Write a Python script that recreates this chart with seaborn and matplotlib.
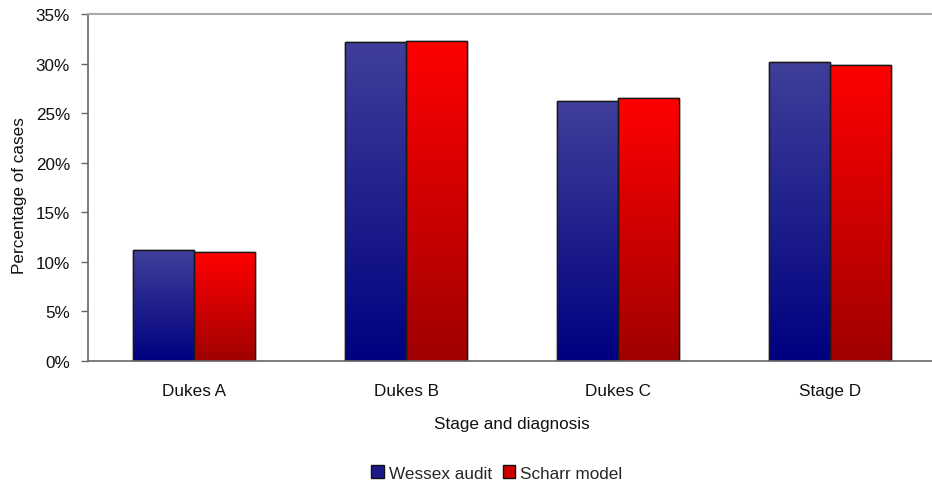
import numpy as np
import pandas as pd
import matplotlib
matplotlib.use("Agg")
import matplotlib.pyplot as plt
from matplotlib.colors import LinearSegmentedColormap
from matplotlib.patches import Patch
import seaborn as sns

# Share of cases by stage at diagnosis
stages = ["Dukes A", "Dukes B", "Dukes C", "Stage D"]
wessex_audit = [11.15, 32.15, 26.2, 30.15]
scharr_model = [10.97, 32.3, 26.55, 29.87]
series_names = ["Wessex audit", "Scharr model"]
y_ticks = [0, 5, 10, 15, 20, 25, 30, 35]

df = pd.DataFrame({
    "stage": stages * 2,
    "pct": wessex_audit + scharr_model,
    "series": [series_names[0]] * len(stages) + [series_names[1]] * len(stages),
})

sns.set_style("white")
plt.rcParams["font.family"] = ["Liberation Sans", "DejaVu Sans"]
FS = 12.3

fig = plt.figure(figsize=(9.32, 4.85), dpi=100)
ax = fig.add_axes([88 / 932, 123 / 485, 848 / 932, 347 / 485])

# gradients: lighter at the top, darker at the bottom
grad = {
    series_names[0]: ("#000080", "#3f3f9a"),
    series_names[1]: ("#a00000", "#ff0000"),
}
solid = {series_names[0]: "#2a2a8e", series_names[1]: "#e00000"}

sns.barplot(data=df, x="stage", y="pct", hue="series", hue_order=series_names,
            palette=solid, width=0.575, ax=ax, legend=False,
            edgecolor="#1a1a1a", linewidth=1.0, saturation=1)

ax.set_xlim(-0.5, 3.5)
ax.set_ylim(0, 35)

# paint each bar with a vertical gradient clipped to the bar shape
for i, cont in enumerate(ax.containers):
    name = series_names[i]
    cmap = LinearSegmentedColormap.from_list(name, list(grad[name]))
    for bar in cont:
        x0 = bar.get_x()
        w = bar.get_width()
        h = bar.get_height()
        img = np.linspace(0, 1, 256).reshape(-1, 1)
        im = ax.imshow(img, cmap=cmap, origin="lower", aspect="auto",
                       extent=(x0, x0 + w, 0, h), zorder=bar.get_zorder() + 0.1,
                       interpolation="bilinear")
        im.set_clip_path(bar)
        ax.add_patch(plt.Rectangle((x0, 0), w, h, fill=False,
                                   edgecolor="#1a1a1a", linewidth=1.0,
                                   zorder=bar.get_zorder() + 0.2))
ax.set_xlim(-0.5, 3.5)
ax.set_ylim(0, 35)

ax.set_yticks(y_ticks)
ax.set_yticklabels([f"{v}%" for v in y_ticks], fontsize=FS, color="#111111")
ax.set_xticks(range(len(stages)))
ax.set_xticklabels(stages, fontsize=FS, color="#111111")
ax.set_xticks([0.5, 1.5, 2.5], minor=True)
ax.tick_params(axis="x", which="major", length=0, pad=16)
ax.tick_params(axis="x", which="minor", length=5, width=1, color="#666666",
               direction="out")
ax.tick_params(axis="y", which="major", length=5, width=1, color="#666666",
               direction="out", left=True, pad=8)

for side in ["left", "bottom"]:
    ax.spines[side].set_visible(True)
    ax.spines[side].set_color("#666666")
    ax.spines[side].set_linewidth(1.2)
ax.spines["top"].set_visible(True)
ax.spines["top"].set_color("#aaaaaa")
ax.spines["top"].set_linewidth(1.5)
ax.spines["right"].set_visible(False)

ax.set_xlabel("Stage and diagnosis", fontsize=FS, color="#111111", labelpad=13)
ax.set_ylabel("Percentage of cases", fontsize=FS, color="#111111")
ax.yaxis.set_label_coords(-61 / 848, 0.48)

handles = [Patch(facecolor="#1a1a8a", edgecolor="#111111", linewidth=1.0),
           Patch(facecolor="#d00000", edgecolor="#111111", linewidth=1.0)]
fig.legend(handles, series_names, loc="center", bbox_to_anchor=(497 / 932, 1 - 474 / 485),
           ncol=2, frameon=False, fontsize=FS, handlelength=0.75, handleheight=0.75,
           handletextpad=0.3, columnspacing=0.6)

fig.savefig("out.png", dpi=100)
